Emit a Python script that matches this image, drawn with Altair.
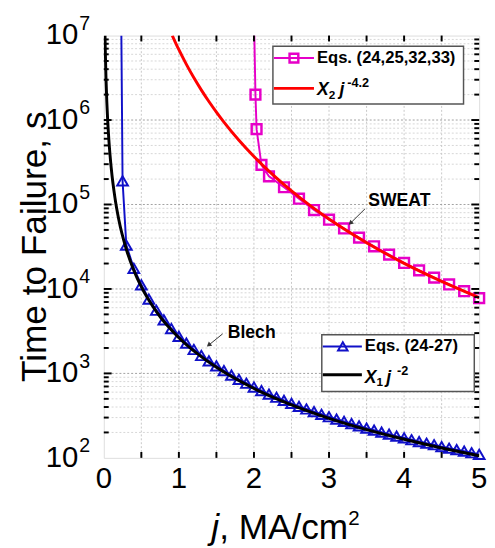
import altair as alt
import pandas as pd

W, H = 384, 432
FONT = "Liberation Sans"
BLUE = "#1010c8"
MAGENTA = "#e600c8"
RED = "#ff0000"

# ---------------- data ----------------
# Eqs. (24-27): blue triangles
j_eq1 = [0.25, 0.3, 0.4, 0.5, 0.6, 0.7, 0.8, 0.9, 1.0, 1.1, 1.2, 1.3, 1.4, 1.5, 1.6, 1.7,
         1.8, 1.9, 2.0, 2.1, 2.2, 2.3, 2.4, 2.5, 2.6, 2.7, 2.8, 2.9, 3.0, 3.1, 3.2, 3.3,
         3.4, 3.5, 3.6, 3.7, 3.8, 3.9, 4.0, 4.1, 4.2, 4.3, 4.4, 4.5, 4.6, 4.7, 4.8, 4.9, 5.0]
t_eq1 = [1.9e5, 3.3e4, 1.75e4, 1.12e4, 7.6e3, 5.6e3, 4.3e3, 3.4e3, 2.75e3, 2.28e3, 1.92e3,
         1.63e3, 1.41e3, 1.23e3, 1.08e3, 955, 852, 765, 690, 626, 570, 522, 479, 442, 408,
         379, 352, 328, 307, 287, 270, 254, 239, 225, 213, 202, 191, 181, 173, 164, 156,
         149, 143, 136, 130, 125, 120, 115, 110]
j_eq1_top = [0.234]   # line continues to top edge
t_eq1_top = [1e7]

# X1 j^-2 (black)
j_fit1 = [0.0163, 0.02, 0.03, 0.04, 0.05, 0.07, 0.1, 0.15, 0.2, 0.3, 0.4, 0.5, 0.7, 1.0,
          1.25, 1.5, 2.0, 2.5, 3.0, 3.5, 4.0, 4.5, 5.0]
t_fit1 = [1e7, 6.6e6, 2.95e6, 1.66e6, 1.06e6, 5.4e5, 2.65e5, 1.18e5, 6.6e4, 2.95e4, 1.66e4,
          1.06e4, 5.4e3, 2.65e3, 1.7e3, 1.18e3, 663, 424, 294, 216, 166, 131, 106]

# Eqs. (24,25,32,33): magenta squares
j_eq2 = [2.02, 2.035, 2.1, 2.2, 2.4, 2.6, 2.8, 3.0, 3.2, 3.4, 3.6, 3.8, 4.0, 4.2, 4.4, 4.6, 4.8, 5.0]
t_eq2 = [2.0e6, 7.8e5, 2.94e5, 2.15e5, 1.6e5, 1.17e5, 8.6e4, 6.6e4, 5.2e4, 4.05e4, 3.2e4,
         2.55e4, 2.03e4, 1.66e4, 1.36e4, 1.13e4, 9.4e3, 7.8e3]
j_eq2_top = [2.005]
t_eq2_top = [1e7]

# X2 j^-4.2 (red)
j_fit2 = [0.912, 0.95, 1.0, 1.1, 1.2, 1.3, 1.4, 1.5, 1.6, 1.8, 2.0, 2.25, 2.5, 2.75, 3.0,
          3.5, 4.0, 4.5, 5.0]
t_fit2 = [1e7, 8.44e6, 6.8e6, 4.56e6, 3.16e6, 2.26e6, 1.655e6, 1.24e6, 9.44e5, 5.76e5,
          3.70e5, 2.26e5, 1.45e5, 9.71e4, 6.74e4, 3.53e4, 2.01e4, 1.23e4, 7.9e3]

# axes
x_tick_labels = [0, 1, 2, 3, 4, 5]
x_minor = [0.5, 1.0, 1.5, 2.0, 2.5, 3.0, 3.5, 4.0, 4.5]
y_decades = [1e2, 1e3, 1e4, 1e5, 1e6, 1e7]
y_exps = ["2", "3", "4", "5", "6", "7"]
y_major_inner = [1e3, 1e4, 1e5, 1e6]
y_minor = [m * 10 ** k for k in range(2, 7) for m in range(2, 10)]

# annotations
ann_text = ["SWEAT", "Blech"]
ann_j = [3.936, 1.97]
ann_t = [1.1e5, 3.0e3]
arr_j1 = [3.48, 1.583]
arr_t1 = [8.9e4, 2.94e3]
arr_j2 = [3.285, 1.397]
arr_t2 = [6.0e4, 2.16e3]
arr_angle = [226, 231]

# ---------------- scales ----------------
xs = alt.Scale(domain=[0, 5], nice=False, zero=False)
ys = alt.Scale(type="log", domain=[100, 1e7], nice=False)


def X(f="j"):
    return alt.X(f"{f}:Q", scale=xs, axis=None)


def Y(f="t"):
    return alt.Y(f"{f}:Q", scale=ys, axis=None)


one = pd.DataFrame({"a": [0]})


def txt(s, x, y, size, weight="normal", style="normal", align="left", baseline="alphabetic", angle=0):
    kw = dict(font=FONT, fontSize=size, fontWeight=weight, fontStyle=style, align=align,
              baseline=baseline, color="black")
    if angle:
        kw["angle"] = angle
    return alt.Chart(one).mark_text(**kw).encode(x=alt.value(x), y=alt.value(y), text=alt.value(s))


layers = []

# grid
layers.append(alt.Chart(pd.DataFrame({"t": y_minor})).mark_rule(
    color="#d6d6d6", strokeDash=[2, 2], strokeWidth=1).encode(y=Y(), x=alt.value(0), x2=alt.value(W)))
layers.append(alt.Chart(pd.DataFrame({"j": x_minor})).mark_rule(
    color="#c8c8c8", strokeDash=[2, 2], strokeWidth=1).encode(x=X(), y=alt.value(0), y2=alt.value(H)))
layers.append(alt.Chart(pd.DataFrame({"t": y_major_inner})).mark_rule(
    color="#a0a0a0", strokeDash=[2, 2], strokeWidth=1).encode(y=Y(), x=alt.value(0), x2=alt.value(W)))

# blue
df_b_line = pd.DataFrame({"j": j_eq1_top + j_eq1, "t": t_eq1_top + t_eq1})
df_b = pd.DataFrame({"j": j_eq1, "t": t_eq1})
layers.append(alt.Chart(df_b_line).mark_line(color=BLUE, strokeWidth=2, clip=True).encode(x=X(), y=Y()))
layers.append(alt.Chart(df_b).mark_point(shape="triangle-up", size=120, filled=False, color=BLUE,
                                          strokeWidth=2, opacity=1).encode(x=X(), y=Y()))
# magenta
df_m_line = pd.DataFrame({"j": j_eq2_top + j_eq2, "t": t_eq2_top + t_eq2})
df_m = pd.DataFrame({"j": j_eq2, "t": t_eq2})
layers.append(alt.Chart(df_m_line).mark_line(color=MAGENTA, strokeWidth=2, clip=True).encode(x=X(), y=Y()))
layers.append(alt.Chart(df_m).mark_point(shape="square", size=100, filled=False, color=MAGENTA,
                                          strokeWidth=2.5, opacity=1).encode(x=X(), y=Y()))
# fits
layers.append(alt.Chart(pd.DataFrame({"j": j_fit1, "t": t_fit1})).mark_line(
    color="black", strokeWidth=3, interpolate="monotone", clip=True).encode(x=X(), y=Y()))
layers.append(alt.Chart(pd.DataFrame({"j": j_fit2, "t": t_fit2})).mark_line(
    color=RED, strokeWidth=3, interpolate="monotone", clip=True).encode(x=X(), y=Y()))

# ticks (inward, mirrored)
tk = dict(color="black", strokeWidth=2)
layers.append(alt.Chart(pd.DataFrame({"t": y_major_inner})).mark_rule(**tk).encode(y=Y(), x=alt.value(0), x2=alt.value(8)))
layers.append(alt.Chart(pd.DataFrame({"t": y_minor})).mark_rule(**tk).encode(y=Y(), x=alt.value(0), x2=alt.value(5)))
layers.append(alt.Chart(pd.DataFrame({"t": y_major_inner})).mark_rule(**tk).encode(y=Y(), x=alt.value(W - 8), x2=alt.value(W)))
layers.append(alt.Chart(pd.DataFrame({"t": y_minor})).mark_rule(**tk).encode(y=Y(), x=alt.value(W - 5), x2=alt.value(W)))
layers.append(alt.Chart(pd.DataFrame({"j": x_minor})).mark_rule(**tk).encode(x=X(), y=alt.value(H - 6), y2=alt.value(H)))
layers.append(alt.Chart(pd.DataFrame({"j": x_minor})).mark_rule(**tk).encode(x=X(), y=alt.value(0), y2=alt.value(6)))

# tick labels
df_yl = pd.DataFrame({"t": y_decades, "e": y_exps})
layers.append(alt.Chart(df_yl).mark_text(font=FONT, fontSize=30, align="right", baseline="middle", color="black").encode(
    y=Y(), x=alt.value(-26), text=alt.value("10")))
layers.append(alt.Chart(df_yl).mark_text(font=FONT, fontSize=20, align="left", baseline="middle", dy=-12, color="black").encode(
    y=Y(), x=alt.value(-25), text="e:N"))
layers.append(alt.Chart(pd.DataFrame({"j": x_tick_labels})).mark_text(
    font=FONT, fontSize=30, align="center", baseline="middle", color="black").encode(x=X(), y=alt.value(H + 22), text="j:Q"))

# axis titles
layers.append(txt("Time to Failure, s", -70, H / 2, 36, align="center", baseline="middle", angle=270))
layers.append(txt("j", 110, 515, 36, style="italic"))
layers.append(txt(", MA/cm", 118, 515, 36))
layers.append(txt("2", 250, 501, 21))

# annotations
df_ann = pd.DataFrame({"j": ann_j, "t": ann_t, "s": ann_text})
layers.append(alt.Chart(df_ann).mark_text(font=FONT, fontSize=18, fontWeight="bold", align="center",
                                           baseline="middle", color="black").encode(x=X(), y=Y(), text="s:N"))
df_arr = pd.DataFrame({"j1": arr_j1, "t1": arr_t1, "j2": arr_j2, "t2": arr_t2, "ang": arr_angle})
layers.append(alt.Chart(df_arr).mark_rule(color="#333333", strokeWidth=1).encode(
    x=X("j1"), y=Y("t1"), x2="j2:Q", y2="t2:Q"))
layers.append(alt.Chart(df_arr).mark_point(shape="triangle-up", filled=True, size=30, color="#333333", opacity=1).encode(
    x=X("j2"), y=Y("t2"), angle=alt.Angle("ang:Q", scale=None)))

# legend 1 (top)
layers.append(alt.Chart(one).mark_rect(fill="white", stroke="#555555", strokeWidth=1.5).encode(
    x=alt.value(173), x2=alt.value(368), y=alt.value(11), y2=alt.value(70)))
layers.append(alt.Chart(one).mark_rule(color=MAGENTA, strokeWidth=2).encode(x=alt.value(174), x2=alt.value(215), y=alt.value(23)))
layers.append(alt.Chart(one).mark_point(shape="square", size=80, filled=False, color=MAGENTA, strokeWidth=2.5, opacity=1).encode(
    x=alt.value(194.5), y=alt.value(23)))
layers.append(txt("Eqs. (24,25,32,33)", 218, 23, 17, weight="bold", baseline="middle"))
layers.append(alt.Chart(one).mark_rule(color=RED, strokeWidth=3).encode(x=alt.value(174), x2=alt.value(215), y=alt.value(54)))
layers.append(txt("X", 218, 61, 18, weight="bold", style="italic"))
layers.append(txt("2", 230, 65, 12, weight="bold"))
layers.append(txt("j", 241, 61, 18, weight="bold", style="italic"))
layers.append(txt("-4.2", 249, 53, 13, weight="bold"))

# legend 2 (bottom)
layers.append(alt.Chart(one).mark_rect(fill="white", stroke="#555555", strokeWidth=1.5).encode(
    x=alt.value(223), x2=alt.value(379), y=alt.value(306), y2=alt.value(364)))
layers.append(alt.Chart(one).mark_rule(color=BLUE, strokeWidth=2).encode(x=alt.value(224), x2=alt.value(264), y=alt.value(318)))
layers.append(alt.Chart(one).mark_point(shape="triangle-up", size=95, filled=False, color=BLUE, strokeWidth=2, opacity=1).encode(
    x=alt.value(244.5), y=alt.value(318)))
layers.append(txt("Eqs. (24-27)", 267, 318, 17, weight="bold", baseline="middle"))
layers.append(alt.Chart(one).mark_rule(color="black", strokeWidth=3).encode(x=alt.value(224), x2=alt.value(264), y=alt.value(347)))
layers.append(txt("X", 267, 355, 18, weight="bold", style="italic"))
layers.append(txt("1", 279, 358, 12, weight="bold"))
layers.append(txt("j", 289, 355, 18, weight="bold", style="italic"))
layers.append(txt("-2", 300, 347, 13, weight="bold"))

chart = alt.layer(*layers).properties(
    width=W, height=H, autosize="none",
    padding={"left": 98, "top": 22, "right": 8, "bottom": 86},
).configure_view(stroke="black", strokeWidth=2.5).configure(background="white")

chart.save("out.html", embed_options={"renderer": "svg", "actions": False})
